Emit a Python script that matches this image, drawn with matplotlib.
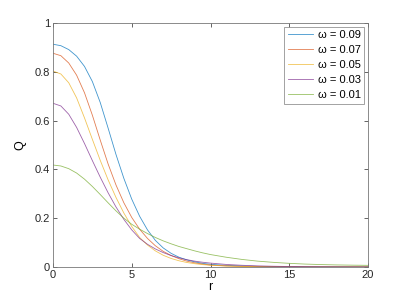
import matplotlib
matplotlib.use('Agg')
import matplotlib.pyplot as plt

# Q(r) profiles
r = [0, 0.5, 1, 1.5, 2, 2.5, 3, 3.5, 4, 4.5, 5, 5.5, 6, 6.5, 7, 7.5, 8, 8.5, 9, 9.5, 10,
     11, 12, 13, 14, 15, 16, 17, 18, 19, 20]
q_009 = [0.913, 0.907, 0.891, 0.864, 0.822, 0.760, 0.674, 0.569, 0.461, 0.363, 0.278, 0.208,
         0.152, 0.109, 0.078, 0.056, 0.040, 0.029, 0.021, 0.015, 0.011,
         0.0065, 0.004, 0.0025, 0.0016, 0.001, 0.0007, 0.0005, 0.0003, 0.0002, 0.0001]
q_007 = [0.876, 0.866, 0.836, 0.786, 0.714, 0.622, 0.520, 0.422, 0.336, 0.263, 0.203, 0.155,
         0.117, 0.087, 0.064, 0.047, 0.034, 0.024, 0.017, 0.012, 0.008,
         0.0045, 0.0026, 0.0015, 0.0009, 0.0005, 0.0003, 0.0002, 0.0001, 0.0001, 0.0]
q_005 = [0.803, 0.791, 0.755, 0.693, 0.611, 0.523, 0.437, 0.357, 0.285, 0.221, 0.166, 0.121,
         0.090, 0.066, 0.048, 0.035, 0.0255, 0.0185, 0.0135, 0.0098, 0.0071,
         0.004, 0.0023, 0.0013, 0.0008, 0.0005, 0.0003, 0.0002, 0.0001, 0.0001, 0.0]
q_003 = [0.671, 0.660, 0.626, 0.572, 0.506, 0.436, 0.368, 0.304, 0.246, 0.195, 0.152, 0.117,
         0.093, 0.074, 0.059, 0.047, 0.0375, 0.030, 0.024, 0.0195, 0.016,
         0.0105, 0.007, 0.0046, 0.003, 0.002, 0.0013, 0.0009, 0.0006, 0.0004, 0.0003]
q_001 = [0.418, 0.414, 0.403, 0.385, 0.360, 0.330, 0.297, 0.263, 0.230, 0.200, 0.175, 0.155,
         0.137, 0.121, 0.107, 0.095, 0.084, 0.075, 0.066, 0.058, 0.051,
         0.040, 0.031, 0.024, 0.019, 0.015, 0.012, 0.010, 0.0085, 0.0075, 0.0068]
labels = ['\u03c9 = 0.09', '\u03c9 = 0.07', '\u03c9 = 0.05', '\u03c9 = 0.03', '\u03c9 = 0.01']
colors = ['#0072BD', '#D95319', '#EDB120', '#7E2F8E', '#77AC30']

plt.rcParams['font.family'] = ['Liberation Sans', 'DejaVu Sans']
plt.rcParams['font.size'] = 8

fig = plt.figure(figsize=(4.07, 3.05), dpi=100)
ax = fig.add_axes([53/407, 1-267/305, (368-53)/407, (267-23)/305])

for q, lab, c in zip([q_009, q_007, q_005, q_003, q_001], labels, colors):
    ax.plot(r, q, color=c, lw=0.6, alpha=0.75, label=lab)

ax.set_xlim(0, 20)
ax.set_ylim(0, 1)
ax.set_xticks([0, 5, 10, 15, 20])
ax.set_yticks([0, 0.2, 0.4, 0.6, 0.8, 1])
ax.set_yticklabels(['0', '0.2', '0.4', '0.6', '0.8', '1'])
ax.tick_params(direction='in', length=3, width=0.5, colors='#262626',
               top=True, right=True, labelsize=8, pad=2)
for s in ax.spines.values():
    s.set_color('#777777')
    s.set_linewidth(0.6)
ax.set_xlabel('r', fontsize=9, labelpad=1)
ax.set_ylabel('Q', fontsize=9, labelpad=6)

leg = ax.legend(loc='upper right', fontsize=8, frameon=True, fancybox=False,
                borderaxespad=0.35, handlelength=2.3, labelspacing=0.45,
                borderpad=0.3, handletextpad=0.4)
leg.get_frame().set_edgecolor('#777777')
leg.get_frame().set_linewidth(0.6)

plt.savefig('out.png', dpi=100)
